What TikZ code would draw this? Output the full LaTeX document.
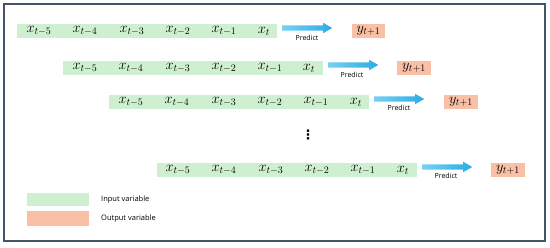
\documentclass[tikz,border=0pt]{standalone}
\usepackage{fontspec}
\setsansfont{Open Sans}
\newfontfamily\dotsfont{DejaVu Sans}
\usepackage{tikz}
\usetikzlibrary{shapes.arrows,positioning}
\definecolor{SwGreen}{RGB}{206,240,208}
\definecolor{SwOrange}{RGB}{250,192,166}
\definecolor{SwBlueA}{RGB}{120,208,242}
\definecolor{SwBlueB}{RGB}{40,172,230}
\definecolor{SwFrame}{RGB}{68,84,106}
\tikzset{
  sw/input/.style={
    fill=SwGreen,
    minimum width=260pt,
    minimum height=14pt,
    inner sep=0pt
  },
  sw/output/.style={
    fill=SwOrange,
    minimum width=34pt,
    minimum height=14pt,
    inner sep=0pt,
    font=\fontsize{14}{16}\selectfont
  },
  sw/var/.style={inner sep=0pt, font=\fontsize{14}{16}\selectfont},
  sw/predict/.style={
    single arrow,
    single arrow tip angle=60,
    single arrow head extend=2.5pt,
    inner xsep=0pt,
    inner ysep=2.5pt,
    text height=0pt,
    text depth=0pt,
    minimum height=50pt,
    left color=SwBlueA,
    right color=SwBlueB,
    draw=none
  },
  sw/label/.style={inner sep=0pt, font=\sffamily\fontsize{7}{8}\selectfont},
  sw/legend/.style={inner sep=0pt, minimum width=62pt},
  sw/legendtext/.style={inner sep=0pt, anchor=west, font=\sffamily\fontsize{7.5}{9}\selectfont}
}
\begin{document}
\begin{tikzpicture}[x=1pt,y=-1pt]
  \useasboundingbox (0,0) rectangle (550,247);
  \draw[SwFrame, line width=1.2pt] (4,4) rectangle (545,241);

  % row 1
  \node[sw/input] (in1) at (147,31) {};
  \node[sw/var] (a1) at (39,31) {$x_{t-5}$};
  \node[sw/var] (b1) at (85,31) {$x_{t-4}$};
  \node[sw/var] (c1) at (132,31) {$x_{t-3}$};
  \node[sw/var] (d1) at (178,31) {$x_{t-2}$};
  \node[sw/var] (e1) at (224,31) {$x_{t-1}$};
  \node[sw/var] (f1) at (264,31) {$x_{t}$};
  \node[sw/predict,anchor=west] (pr1) at (282,28) {};
  \node[sw/label] (lb1) at (307,38) {Predict};
  \node[sw/output,minimum width=33pt] (out1) at (368.5,31) {$y_{t+1}$};

  % row 2
  \node[sw/input] (in2) at (193,68) {};
  \node[sw/var] (a2) at (85,68) {$x_{t-5}$};
  \node[sw/var] (b2) at (131,68) {$x_{t-4}$};
  \node[sw/var] (c2) at (178,68) {$x_{t-3}$};
  \node[sw/var] (d2) at (224,68) {$x_{t-2}$};
  \node[sw/var] (e2) at (270,68) {$x_{t-1}$};
  \node[sw/var] (f2) at (309,68) {$x_{t}$};
  \node[sw/predict,anchor=west] (pr2) at (328,65) {};
  \node[sw/label] (lb2) at (352,75) {Predict};
  \node[sw/output] (out2) at (414,68) {$y_{t+1}$};

  % row 3
  \node[sw/input] (in3) at (239,102) {};
  \node[sw/var] (a3) at (131,102) {$x_{t-5}$};
  \node[sw/var] (b3) at (177,102) {$x_{t-4}$};
  \node[sw/var] (c3) at (224,102) {$x_{t-3}$};
  \node[sw/var] (d3) at (270,102) {$x_{t-2}$};
  \node[sw/var] (e3) at (316,102) {$x_{t-1}$};
  \node[sw/var] (f3) at (356,102) {$x_{t}$};
  \node[sw/predict,anchor=west] (pr3) at (374,99) {};
  \node[sw/label] (lb3) at (399,108) {Predict};
  \node[sw/output] (out3) at (461,102) {$y_{t+1}$};

  \node[inner sep=0pt, font=\dotsfont\bfseries\fontsize{13}{15}\selectfont] (dots) at (308,135) {⋮};

  % row 4
  \node[sw/input] (in4) at (286.5,170) {};
  \node[sw/var] (a4) at (178,170) {$x_{t-5}$};
  \node[sw/var] (b4) at (224,170) {$x_{t-4}$};
  \node[sw/var] (c4) at (271,170) {$x_{t-3}$};
  \node[sw/var] (d4) at (317,170) {$x_{t-2}$};
  \node[sw/var] (e4) at (363,170) {$x_{t-1}$};
  \node[sw/var] (f4) at (403,170) {$x_{t}$};
  \node[sw/predict,anchor=west] (pr4) at (422,167) {};
  \node[sw/label] (lb4) at (446,176) {Predict};
  \node[sw/output] (out4) at (508,170) {$y_{t+1}$};

  % legend
  \node[sw/legend,fill=SwGreen,minimum height=13pt] (lgin) at (58,199.5) {};
  \node[sw/legend,fill=SwOrange,minimum height=15pt] (lgout) at (58,218.5) {};
  \node[sw/legendtext] (txin) at (101,200) {Input variable};
  \node[sw/legendtext] (txout) at (101,219) {Output variable};
\end{tikzpicture}
\end{document}
